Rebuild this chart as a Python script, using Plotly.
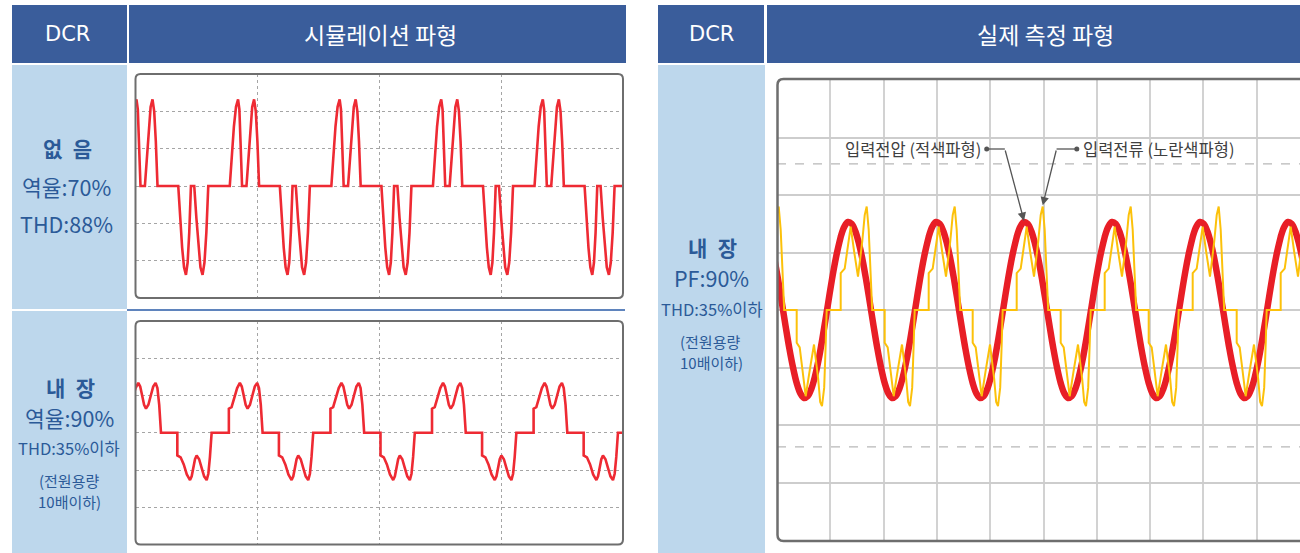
import plotly.graph_objects as go

W, H = 1300, 553

# ---------------- data ----------------
# Simulated waveforms: one mains period, phase in electrical degrees, value in grid divisions
SIM_PERIOD_MS = 16.67
SIM1_PHASE = [0, 7.4, 14.7, 22.1, 29.4, 34.1, 38.7, 43.6, 59.2, 66.0, 72.7, 79.5, 86.2, 92.2, 97.9, 103.9,
              177.4, 184.1, 191.2, 197.9, 204.7, 210.7, 216.4, 222.4, 234.1, 241.6, 249.0, 256.1, 263.6,
              270.3, 277.0, 283.8, 360]
SIM1_VAL = [0, 0.85, 1.6, 2.12, 2.32, 2.05, 1.25, 0, 0, 0.8, 1.6, 2.12, 2.32, 2.0, 1.2, 0,
            0, -0.85, -1.65, -2.18, -2.38, -2.05, -1.25, 0, 0, -0.85, -1.65, -2.18, -2.38,
            -2.05, -1.25, 0, 0]
SIM1_START_MS = -1.2

SIM2_PHASE = [0, 0, 9.6, 19.5, 29.4, 39.0, 45.8, 52.7, 59.6, 66.3, 74.8, 83.4, 91.9, 100.4, 106.8, 113.2, 119.5,
              177.4, 177.4, 189.1, 200.1, 211.0, 222.4, 228.3, 234.1, 240.0, 245.8, 254.7, 263.5, 272.4,
              281.3, 287.3, 293.0, 299.0, 360]
SIM2_VAL = [0, 0.645, 0.69, 0.92, 1.2, 1.34, 1.24, 1.0, 0.75, 0.65, 0.75, 1.0, 1.24, 1.34, 1.2, 0.75, 0,
            0, -0.61, -0.66, -0.85, -1.12, -1.27, -1.17, -0.94, -0.71, -0.61, -0.71, -0.94, -1.17,
            -1.27, -1.1, -0.65, 0, 0]
SIM2_START_MS = -1.35

# Measured waveforms (10 ms / div)
MEAS_PERIOD_MS = 16.51
MEAS_START_MS = -4.56
VOLT_PHASE = [0, 15, 30, 45, 60, 75, 90, 105, 120, 135, 150, 165, 180, 195, 210, 225, 240, 255, 270, 285,
              300, 315, 330, 345, 360]
VOLT_VAL = [1.27, 1.45, 1.53, 1.50, 1.37, 1.15, 0.86, 0.50, 0.11, -0.29, -0.67, -1.00, -1.27, -1.45,
            -1.53, -1.50, -1.37, -1.15, -0.86, -0.50, -0.11, 0.29, 0.67, 1.00, 1.27]
CURR_PHASE = [0, 0, 16.4, 28.6, 40.9, 55.6, 70.8, 88.4, 98.2, 106.4, 114.5, 122.7, 128.9,
              180, 180, 192.3, 204.5, 216.8, 233.2, 250.8, 268.0, 276.1, 283.5, 292.5, 298.6, 302.7, 360]
CURR_VAL = [0, 0.64, 0.72, 1.05, 1.45, 1.0, 0.58, 1.2, 1.65, 1.8, 1.4, 0.6, 0,
            0, -0.57, -0.65, -1.05, -1.5, -1.05, -0.6, -1.2, -1.6, -1.67, -1.35, -0.6, 0, 0]
REF_LEVELS = [2.54, -2.38]

HEADERS = ["DCR", "시뮬레이션 파형", "DCR", "실제 측정 파형"]
ROW1_LABEL = ["없 음", "역율:70%", "THD:88%"]
ROW2_LABEL = ["내 장", "역율:90%", "THD:35%이하", "(전원용량", "10배이하)"]
RIGHT_LABEL = ["내 장", "PF:90%", "THD:35%이하", "(전원용량", "10배이하)"]
NOTE_V = "입력전압 (적색파형)"
NOTE_I = "입력전류 (노란색파형)"

# ---------------- helpers ----------------
def tile(phase, val, period, start, n):
    t, v = [], []
    for k in range(n):
        t.extend(start + (k + p / 360.0) * period for p in phase)
        v.extend(val)
    return t, v

def px(x):
    return x / W

def py(y):
    return 1 - y / H

FONT = "Noto Sans CJK KR"
HDR = "#3a5d9b"
LBL = "#bdd7ec"
TXT = "#2b5a98"

shapes, annots = [], []

def rect(x0, y0, x1, y1, color):
    shapes.append(dict(type="rect", xref="paper", yref="paper", x0=px(x0), x1=px(x1),
                       y0=py(y1), y1=py(y0), fillcolor=color, line=dict(width=0), layer="below"))

def text(x, y, s, size, color, bold=False, wide=False, family=FONT):
    if wide:
        s = s.replace(" ", "\u2002")
    annots.append(dict(xref="paper", yref="paper", x=px(x), y=py(y), text=("<b>%s</b>" % s) if bold else s,
                       showarrow=False, xanchor="center", yanchor="middle",
                       font=dict(family=family, size=size, color=color)))

def rrect_path(x0, y0, x1, y1, r, open_right=False):
    rx, ry = r / W, r / H
    X0, X1, Y0, Y1 = px(x0), px(x1), py(y0), py(y1)
    if open_right:
        return (f"M {X1},{Y0} L {X0+rx},{Y0} Q {X0},{Y0} {X0},{Y0-ry} L {X0},{Y1+ry} "
                f"Q {X0},{Y1} {X0+rx},{Y1} L {X1},{Y1}")
    return (f"M {X0+rx},{Y0} L {X1-rx},{Y0} Q {X1},{Y0} {X1},{Y0-ry} L {X1},{Y1+ry} "
            f"Q {X1},{Y1} {X1-rx},{Y1} L {X0+rx},{Y1} Q {X0},{Y1} {X0},{Y1+ry} "
            f"L {X0},{Y0-ry} Q {X0},{Y0} {X0+rx},{Y0} Z")

# ---------------- backgrounds ----------------
rect(12, 5, 127, 63, HDR)
rect(129, 5, 626, 63, HDR)
rect(12, 65, 127, 309, LBL)
rect(12, 311, 127, 553, LBL)
rect(658, 5, 764, 63, HDR)
rect(767, 5, 1300, 63, HDR)
rect(658, 65, 765, 553, LBL)
shapes.append(dict(type="line", xref="paper", yref="paper", x0=px(127), x1=px(625), y0=py(310), y1=py(310),
                   line=dict(color="#5f84bd", width=2), layer="below"))

LAT = "DejaVu Sans, Noto Sans CJK KR"
text(67, 34, HEADERS[0], 21, "white", family=LAT)
text(380, 34, HEADERS[1], 23, "white")
text(711, 34, HEADERS[2], 21, "white", family=LAT)
text(1045, 34, HEADERS[3], 23, "white")

text(67, 148, ROW1_LABEL[0], 21, TXT, bold=True, wide=True)
text(66, 187, ROW1_LABEL[1], 21.5, TXT)
text(66, 223, ROW1_LABEL[2], 21.5, TXT)

text(70, 387, ROW2_LABEL[0], 21, TXT, bold=True, wide=True)
text(69, 417, ROW2_LABEL[1], 21.5, TXT)
text(69, 448, ROW2_LABEL[2], 16.5, TXT)
text(69, 480, ROW2_LABEL[3], 15, TXT)
text(69, 501, ROW2_LABEL[4], 15, TXT)

text(712, 247, RIGHT_LABEL[0], 21, TXT, bold=True, wide=True)
text(711, 277, RIGHT_LABEL[1], 21.5, TXT)
text(712, 309, RIGHT_LABEL[2], 16.5, TXT)
text(710, 341, RIGHT_LABEL[3], 15, TXT)
text(711, 362, RIGHT_LABEL[4], 15, TXT)

# ---------------- traces ----------------
fig = go.Figure()
t1, v1 = tile(SIM1_PHASE, SIM1_VAL, SIM_PERIOD_MS, SIM1_START_MS, 6)
t2, v2 = tile(SIM2_PHASE, SIM2_VAL, SIM_PERIOD_MS, SIM2_START_MS, 6)
tv, vv = tile(VOLT_PHASE, VOLT_VAL, MEAS_PERIOD_MS, MEAS_START_MS, 8)
ti, vi = tile(CURR_PHASE, CURR_VAL, MEAS_PERIOD_MS, MEAS_START_MS, 8)

SIMRED = "#ee2a33"
fig.add_trace(go.Scatter(x=t1, y=v1, mode="lines", line=dict(color=SIMRED, width=2.6), xaxis="x", yaxis="y"))
fig.add_trace(go.Scatter(x=t2, y=v2, mode="lines", line=dict(color=SIMRED, width=2.6), xaxis="x2", yaxis="y2"))
fig.add_trace(go.Scatter(x=tv, y=vv, mode="lines", line=dict(color="#e81e26", width=6.5, shape="spline"),
                         xaxis="x3", yaxis="y3"))
fig.add_trace(go.Scatter(x=ti, y=vi, mode="lines", line=dict(color="#fcc10a", width=2),
                         xaxis="x3", yaxis="y3"))

# annotation callouts on the measured panel
k_tip = 3
iv = VOLT_VAL.index(max(VOLT_VAL))
ii = CURR_VAL.index(max(CURR_VAL))
tip_v = (MEAS_START_MS + (k_tip + VOLT_PHASE[iv] / 360) * MEAS_PERIOD_MS, VOLT_VAL[iv])
tip_i = (MEAS_START_MS + (k_tip + CURR_PHASE[ii] / 360) * MEAS_PERIOD_MS, CURR_VAL[ii])
note_y = 2.80
corner_v, dot_v = tip_v[0] - 3.6, tip_v[0] - 7.0
corner_i, dot_i = tip_i[0] + 2.6, tip_i[0] + 6.4
for a, b in ((dot_v, corner_v), (corner_i, dot_i)):
    shapes.append(dict(type="line", xref="x3", yref="y3", x0=a, x1=b, y0=note_y, y1=note_y,
                       line=dict(color="#555555", width=1.3)))
for tip, corner in ((tip_v, corner_v), (tip_i, corner_i)):
    annots.append(dict(xref="x3", yref="y3", axref="x3", ayref="y3", x=tip[0], y=tip[1] + 0.02,
                       ax=corner, ay=note_y, text="", showarrow=True, arrowhead=2, arrowsize=1.3,
                       arrowwidth=1.3, arrowcolor="#555555", standoff=0))
fig.add_trace(go.Scatter(x=[dot_v, dot_i], y=[note_y, note_y], mode="markers",
                         marker=dict(color="#555555", size=5), xaxis="x3", yaxis="y3"))
annots.append(dict(xref="x3", yref="y3", x=dot_v - 0.7, y=note_y, text=NOTE_V, showarrow=False,
                   xanchor="right", yanchor="middle", font=dict(family=FONT, size=16.5, color="#404040")))
annots.append(dict(xref="x3", yref="y3", x=dot_i + 0.7, y=note_y, text=NOTE_I, showarrow=False,
                   xanchor="left", yanchor="middle", font=dict(family=FONT, size=16.5, color="#404040")))

for lv in REF_LEVELS:
    shapes.append(dict(type="line", xref="x3 domain", yref="y3", x0=0, x1=1, y0=lv, y1=lv,
                       line=dict(color="#b8b8b8", width=1.3, dash="dash"), layer="below"))

# panel borders
shapes.append(dict(type="path", xref="paper", yref="paper", path=rrect_path(135.5, 74, 623, 298, 5),
                   line=dict(color="#6e6e6e", width=2)))
shapes.append(dict(type="path", xref="paper", yref="paper", path=rrect_path(135.5, 321, 623, 544.5, 5),
                   line=dict(color="#6e6e6e", width=2)))
shapes.append(dict(type="path", xref="paper", yref="paper", path=rrect_path(777.5, 79, 1301, 541, 6, True),
                   line=dict(color="#6e6e6e", width=2.5)))

sim_x = dict(range=[0, 80], dtick=20, showgrid=True, gridcolor="#a5a5a5", griddash="dot", gridwidth=1.2,
             showticklabels=False, zeroline=False, showline=False, ticks="")
sim_y = dict(range=[-3, 3], dtick=1, showgrid=True, gridcolor="#a5a5a5", griddash="dot", gridwidth=1.2,
             showticklabels=False, zeroline=False, showline=False, ticks="")

fig.update_layout(
    width=W, height=H, margin=dict(l=0, r=0, t=0, b=0), autosize=False,
    paper_bgcolor="white", plot_bgcolor="rgba(0,0,0,0)", showlegend=False,
    xaxis=dict(domain=[px(135.5), px(623)], anchor="y", **sim_x),
    yaxis=dict(domain=[py(298), py(74)], anchor="x", **sim_y),
    xaxis2=dict(domain=[px(135.5), px(623)], anchor="y2", **sim_x),
    yaxis2=dict(domain=[py(544.5), py(321)], anchor="x2", **sim_y),
    xaxis3=dict(domain=[px(777), 1.0], anchor="y3", range=[0, (1300 - 777) / 5.33], dtick=10,
                showgrid=True, gridcolor="#d2d2d2", gridwidth=1.6, showticklabels=False,
                zeroline=False, showline=False, ticks=""),
    yaxis3=dict(domain=[py(540), py(80)], anchor="x3", range=[-4, 4], dtick=1, showgrid=True,
                gridcolor="#cdcdcd", gridwidth=1.6, showticklabels=False, zeroline=False,
                showline=False, ticks=""),
    shapes=shapes, annotations=annots,
)

fig.write_html("out.html", config={"displayModeBar": False},
               post_script="document.body.style.margin='0';document.body.style.overflow='hidden';")
